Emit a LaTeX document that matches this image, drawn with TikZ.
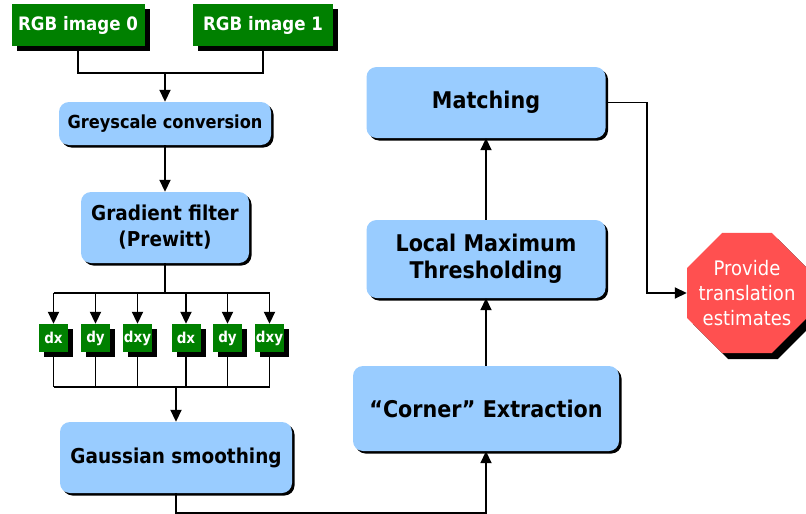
\documentclass[tikz,border=0pt]{standalone}
\usepackage{fontspec}
\setmainfont{DejaVu Sans}[FakeStretch=0.9]
\usetikzlibrary{arrows.meta,shapes.geometric,shadows}
\definecolor{boxblue}{HTML}{99CCFF}
\definecolor{boxgreen}{HTML}{008000}
\definecolor{octred}{HTML}{FF5050}
\begin{document}
\begin{tikzpicture}[x=1pt,y=-1pt,
  bluebox/.style={fill=boxblue, rounded corners=10pt, inner sep=0pt, align=center,
    general shadow={fill=black, shadow xshift=2.5pt, shadow yshift=-2.5pt}},
  greenbox/.style={fill=boxgreen, text=white, inner sep=0pt,
    font=\bfseries\fontsize{18.5}{22}\selectfont,
    general shadow={fill=black, shadow xshift=5pt, shadow yshift=-5pt}},
  smallbox/.style={fill=boxgreen, text=white, inner sep=0pt,
    minimum width=29pt, minimum height=28pt,
    font=\bfseries\fontsize{15}{17}\selectfont,
    general shadow={fill=black, shadow xshift=5pt, shadow yshift=-5pt}},
  big/.style={font=\bfseries\fontsize{23}{27}\selectfont},
  mid/.style={font=\bfseries\fontsize{20.5}{26}\selectfont},
  conn/.style={line width=1.5pt},
  arr/.style={line width=1.8pt, -{Triangle[length=12pt,width=11pt]}}
]
\useasboundingbox (0,0) rectangle (806,514);

% nodes
\node[greenbox, minimum width=133pt, minimum height=42pt] (rgb0) at (78,25) {RGB image 0};
\node[greenbox, minimum width=140pt, minimum height=42pt] (rgb1) at (263,25) {RGB image 1};
\node[bluebox, minimum width=212pt, minimum height=43pt, font=\bfseries\fontsize{18}{22}\selectfont] (grey) at (165,123.5) {Greyscale conversion};
\node[bluebox, mid, minimum width=168pt, minimum height=71pt] (grad) at (165,227.5) {Gradient filter\\(Prewitt)};

\node[smallbox] (dxa) at (53.5,338) {dx};
\node[smallbox] (dya) at (95.5,338) {dy};
\node[smallbox] (dxya) at (137.5,338) {dxy};
\node[smallbox] (dxb) at (186,338) {dx};
\node[smallbox] (dyb) at (227.5,338) {dy};
\node[smallbox] (dxyb) at (269.5,338) {dxy};

\node[bluebox, mid, minimum width=232pt, minimum height=71pt] (gauss) at (176,457.5) {Gaussian smoothing};
\node[bluebox, big, minimum width=266pt, minimum height=85pt] (corner) at (486,408.5) {“Corner” Extraction};
\node[bluebox, big, minimum width=239pt, minimum height=78pt] (lmax) at (486,259) {Local Maximum\\Thresholding};
\node[bluebox, big, minimum width=239pt, minimum height=71pt] (match) at (486,102.5) {Matching};

\node[regular polygon, regular polygon sides=8, minimum size=129.9pt, inner sep=0pt,
  fill=octred,
  general shadow={fill=black, shadow xshift=6pt, shadow yshift=-6pt}] (oct) at (747,293) {};
\node[text=white, align=center, inner sep=0pt, font=\fontsize{20}{25}\selectfont] (octtxt) at (oct.center)
  {Provide\\translation\\estimates};

% connectors
\coordinate (j1) at (165,73);
\draw[conn] (rgb0.south) |- (j1) -| (rgb1.south);
\draw[arr] (j1) -- (grey.north);
\draw[arr] (grey.south) -- (grad.north);

\coordinate (j2) at (165,293);
\draw[conn] (grad.south) -- (j2);
\draw[conn] (dxa.north |- j2) -- (dxyb.north |- j2);
\foreach \b in {dxa,dya,dxya,dxb,dyb,dxyb}{
  \draw[arr] (\b.north |- j2) -- (\b.north);
}

\coordinate (j3) at (176,387);
\foreach \b in {dxa,dya,dxya,dxb,dyb,dxyb}{
  \draw[conn] (\b.south) -- (\b.south |- j3);
}
\draw[conn] (dxa.south |- j3) -- (dxyb.south |- j3);
\draw[arr] (j3) -- (gauss.north);

\coordinate (j4) at (486,513);
\draw[arr] (gauss.south) |- (j4) -- (corner.south);
\draw[arr] (corner.north) -- (lmax.south);
\draw[arr] (lmax.north) -- (match.south);

\coordinate (j5) at (647,293);
\draw[arr] (match.east) -| (j5) -- (oct.west);
\end{tikzpicture}
\end{document}
